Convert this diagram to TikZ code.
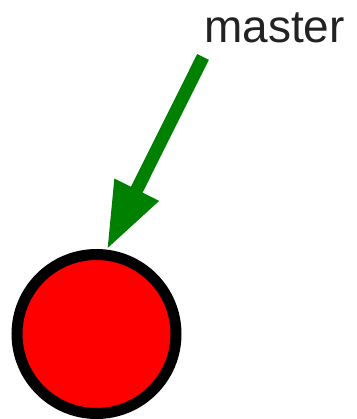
\documentclass[tikz,border=0pt]{standalone}
\usepackage{fontspec}
\setmainfont{Liberation Sans}
\usetikzlibrary{arrows.meta}
\definecolor{txtgray}{HTML}{222222}
\definecolor{arrgreen}{HTML}{008000}
\tikzset{
  commit/.style={circle, draw=black, line width=11pt, fill=red, minimum size=159pt, inner sep=0pt},
  reflabel/.style={inner sep=0pt, anchor=base west, text=txtgray, font=\fontsize{46pt}{50pt}\selectfont},
  refarrow/.style={draw=arrgreen, line width=13pt, -{Triangle[length=67pt,width=46pt,fill=arrgreen]}}
}
\begin{document}
\begin{tikzpicture}[x=1pt,y=-1pt]
\useasboundingbox (0,0) rectangle (356,419);
\node[commit] (c) at (96.5,334) {};
\node[reflabel] (m) at (204,43) {master};
\coordinate (s) at (203,57);
\draw[refarrow] (s) -- (c.83);
\end{tikzpicture}
\end{document}
